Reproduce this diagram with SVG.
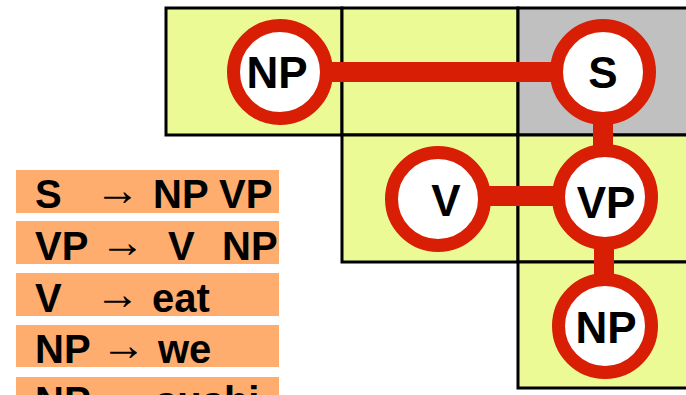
<svg xmlns="http://www.w3.org/2000/svg" width="686" height="395" viewBox="0 0 686 395">
<style>
.cell{fill:#ecfa96;stroke:#000;stroke-width:3}
.grey{fill:#c0c0c0;stroke:#000;stroke-width:3}
.edge{stroke:#d81e05;stroke-width:20;fill:none}
.node circle{fill:#fff;stroke:#d81e05;stroke-width:13}
.node text{font-family:"Liberation Sans",Arial,sans-serif;font-weight:bold;font-size:44px;text-anchor:middle;fill:#000}
.rule rect{fill:#fead6f}
.rule text{font-family:"Liberation Sans",Arial,sans-serif;font-weight:bold;font-size:40px;fill:#000}
.rule text.arr{font-size:45px}
</style>
<g id="grid">
<rect class="cell" x="166" y="8" width="176" height="127"/>
<rect class="cell" x="342" y="8" width="176" height="127"/>
<rect class="grey" x="518" y="8" width="176" height="127"/>
<rect class="cell" x="342" y="135" width="176" height="127"/>
<rect class="cell" x="518" y="135" width="176" height="127"/>
<rect class="cell" x="518" y="262" width="176" height="126"/>
</g>
<g id="connectors">
<line class="edge" x1="280" y1="72" x2="603" y2="72"/>
<line class="edge" x1="603" y1="72" x2="603" y2="198"/>
<line class="edge" x1="438" y1="196" x2="605" y2="196"/>
<line class="edge" x1="604" y1="198" x2="604" y2="326"/>
</g>
<g id="node-np1" class="node"><circle cx="280" cy="72" r="46.5"/><text x="277" y="88">NP</text></g>
<g id="node-s" class="node"><circle cx="603" cy="72" r="46.5"/><text x="603" y="88">S</text></g>
<g id="node-v" class="node"><circle cx="438" cy="199" r="46.5"/><text x="446" y="216">V</text></g>
<g id="node-vp" class="node"><circle cx="605" cy="197" r="46.5"/><text x="606" y="218">VP</text></g>
<g id="node-np2" class="node"><circle cx="605" cy="326" r="46.5"/><text x="606" y="343">NP</text></g>
<g id="rules" class="rule">
<rect x="16" y="170" width="263" height="43"/>
<rect x="16" y="221" width="263" height="43"/>
<rect x="16" y="273" width="263" height="43"/>
<rect x="16" y="325" width="263" height="42"/>
<rect x="16" y="377" width="263" height="30"/>
<text x="35" y="208">S</text><text class="arr" x="95" y="205">→</text><text x="153" y="208">NP VP</text>
<text x="35" y="260">VP</text><text class="arr" x="100" y="257">→</text><text x="168" y="260">V</text><text x="222" y="260">NP</text>
<text x="35" y="312">V</text><text class="arr" x="95" y="309">→</text><text x="152" y="312">eat</text>
<text x="35" y="363">NP</text><text class="arr" x="101" y="360">→</text><text x="158" y="363">we</text>
<text x="35" y="415">NP</text><text class="arr" x="101" y="412">→</text><text x="155" y="415">sushi</text>
</g>
</svg>
